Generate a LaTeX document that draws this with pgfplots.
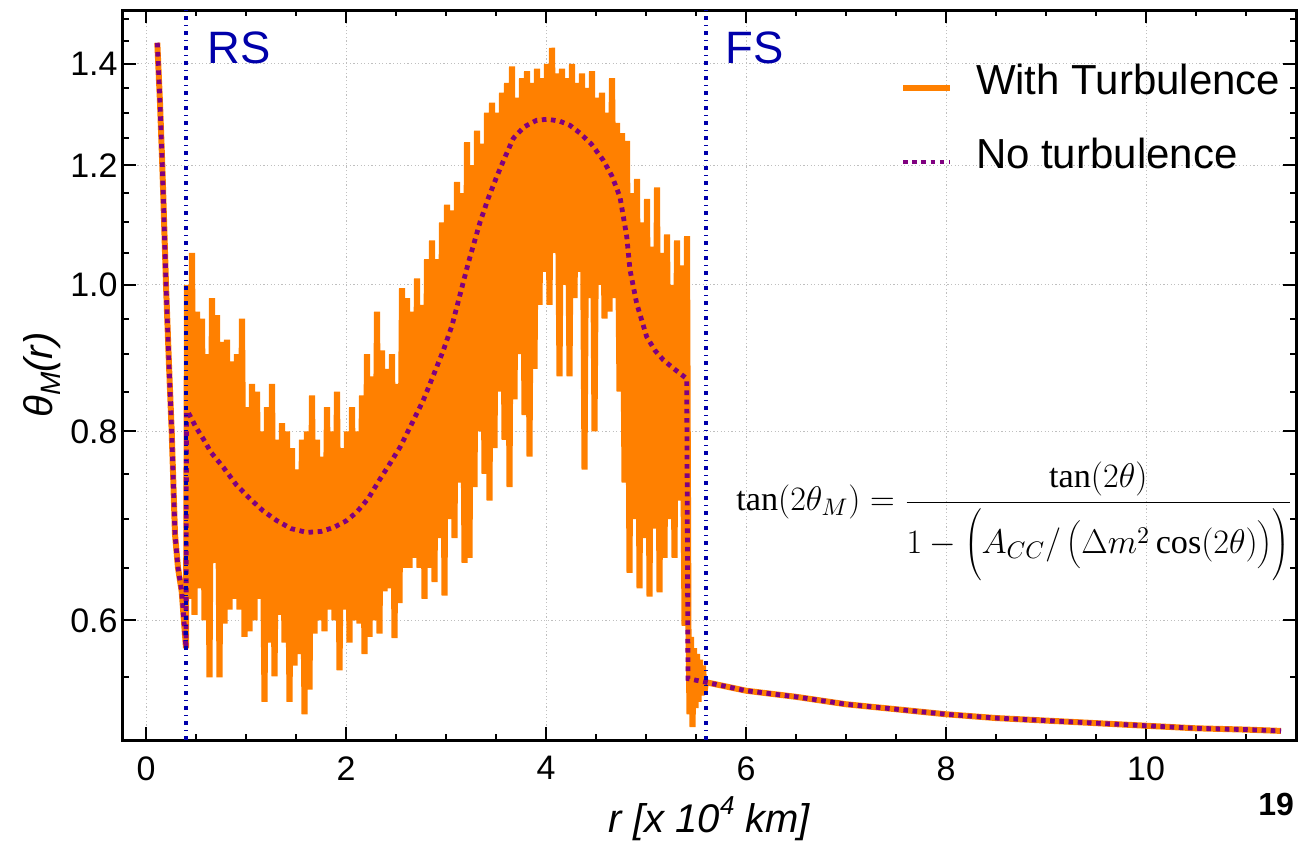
\RequirePackage{fix-cm}
\documentclass[border=0pt]{standalone}
\usepackage{fontspec}
\setmainfont{Liberation Serif}
\newfontfamily\lsans{Liberation Sans}
\usepackage{pgfplots}
\pgfplotsset{compat=1.18}
\definecolor{morange}{RGB}{255,128,0}
\definecolor{mpurple}{RGB}{128,0,128}
\definecolor{mblue}{RGB}{0,0,170}

\pgfplotstableread{
x y
0.113 1.446
0.140 1.32
0.163 1.20
0.183 1.09
0.200 1.00
0.230 0.885
0.257 0.80
0.290 0.684
0.320 0.65
0.357 0.627
0.390 0.587
0.400 0.575
0.410 1.00
0.435 0.62
0.460 1.05
0.485 0.605
0.510 0.96
0.535 0.63
0.560 0.95
0.585 0.60
0.610 0.90
0.635 0.55
0.660 0.98
0.685 0.655
0.710 0.955
0.735 0.55
0.760 0.917
0.785 0.597
0.810 0.92
0.835 0.61
0.860 0.89
0.885 0.62
0.910 0.90
0.935 0.61
0.960 0.95
0.985 0.585
1.010 0.83
1.035 0.59
1.060 0.86
1.085 0.60
1.110 0.85
1.135 0.62
1.160 0.80
1.185 0.53
1.210 0.83
1.235 0.58
1.260 0.86
1.285 0.551
1.310 0.79
1.335 0.605
1.360 0.81
1.385 0.58
1.410 0.80
1.435 0.53
1.460 0.78
1.485 0.56
1.510 0.755
1.535 0.57
1.560 0.79
1.585 0.52
1.610 0.80
1.635 0.54
1.660 0.845
1.685 0.588
1.710 0.79
1.735 0.60
1.760 0.77
1.785 0.59
1.810 0.83
1.835 0.61
1.860 0.80
1.885 0.60
1.910 0.85
1.935 0.556
1.960 0.78
1.985 0.61
2.010 0.80
2.035 0.58
2.060 0.83
2.085 0.60
2.110 0.80
2.135 0.597
2.160 0.845
2.185 0.57
2.210 0.90
2.235 0.585
2.260 0.87
2.285 0.60
2.310 0.96
2.335 0.588
2.360 0.905
2.385 0.627
2.410 0.88
2.435 0.63
2.460 0.90
2.485 0.584
2.510 0.86
2.535 0.616
2.560 0.995
2.585 0.65
2.610 0.98
2.635 0.65
2.660 0.96
2.685 0.66
2.710 1.01
2.735 0.65
2.760 0.97
2.785 0.62
2.810 1.04
2.835 0.65
2.860 1.07
2.885 0.636
2.910 1.04
2.935 0.68
2.960 1.10
2.985 0.623
3.010 1.13
3.035 0.70
3.060 1.12
3.085 0.68
3.110 1.17
3.135 0.74
3.160 1.15
3.185 0.655
3.210 1.243
3.235 0.66
3.260 1.20
3.285 0.735
3.310 1.265
3.335 0.80
3.360 1.24
3.385 0.75
3.410 1.30
3.435 0.72
3.460 1.32
3.485 0.78
3.510 1.30
3.535 0.85
3.560 1.34
3.585 0.79
3.610 1.36
3.635 0.735
3.660 1.395
3.685 0.84
3.710 1.33
3.735 0.90
3.760 1.37
3.785 0.82
3.810 1.385
3.835 0.77
3.860 1.36
3.885 0.88
3.910 1.39
3.935 0.97
3.960 1.37
3.985 1.02
4.010 1.40
4.035 0.97
4.060 1.435
4.085 1.05
4.110 1.38
4.135 0.87
4.160 1.39
4.185 1.00
4.210 1.37
4.235 0.87
4.260 1.40
4.285 0.98
4.310 1.36
4.335 1.02
4.360 1.38
4.385 0.755
4.410 1.35
4.435 0.98
4.460 1.385
4.485 0.80
4.510 1.33
4.535 1.00
4.560 1.34
4.585 0.95
4.610 1.30
4.635 0.96
4.660 1.37
4.685 0.98
4.710 1.28
4.735 0.85
4.760 1.26
4.785 0.74
4.810 1.245
4.835 0.645
4.860 1.15
4.885 0.70
4.910 1.175
4.935 0.63
4.960 1.10
4.985 0.68
5.010 1.14
5.035 0.622
5.060 1.06
5.085 0.69
5.110 1.16
5.135 0.626
5.160 1.05
5.185 0.66
5.210 1.08
5.235 0.70
5.260 1.00
5.285 0.66
5.310 1.07
5.335 0.72
5.360 1.03
5.385 0.595
5.410 1.077
5.425 0.59
5.435 0.52
5.450 0.585
5.465 0.51
5.480 0.575
5.495 0.525
5.510 0.57
5.525 0.53
5.540 0.565
5.555 0.535
5.570 0.56
5.585 0.538
5.600 0.546
6.000 0.539
6.500 0.534
7.000 0.528
7.500 0.524
8.000 0.520
8.500 0.517
9.000 0.515
9.500 0.513
10.000 0.511
10.500 0.509
11.000 0.508
11.350 0.507
}\turb

\pgfplotstableread{
x y
0.113 1.446
0.140 1.32
0.163 1.20
0.183 1.09
0.200 1.00
0.230 0.885
0.257 0.80
0.290 0.684
0.320 0.65
0.357 0.627
0.390 0.587
0.400 0.575
0.405 0.825
0.420 0.824
0.500 0.805
0.573 0.791
0.650 0.775
0.773 0.7575
0.900 0.738
1.040 0.722
1.170 0.709
1.307 0.6985
1.450 0.690
1.607 0.686
1.750 0.687
1.873 0.691
2.000 0.698
2.107 0.7074
2.220 0.722
2.340 0.744
2.440 0.762
2.540 0.781
2.660 0.810
2.773 0.839
2.870 0.870
2.973 0.905
3.060 0.940
3.140 0.985
3.223 1.034
3.340 1.100
3.420 1.140
3.507 1.179
3.590 1.215
3.673 1.250
3.780 1.272
3.907 1.285
4.020 1.287
4.140 1.283
4.240 1.275
4.340 1.260
4.450 1.240
4.573 1.209
4.660 1.180
4.740 1.143
4.807 1.077
4.840 1.023
4.907 0.972
5.007 0.924
5.090 0.905
5.173 0.892
5.290 0.879
5.407 0.867
5.420 0.549
5.600 0.546
6.000 0.539
6.500 0.534
7.000 0.528
7.500 0.524
8.000 0.520
8.500 0.517
9.000 0.515
9.500 0.513
10.000 0.511
10.500 0.509
11.000 0.508
11.350 0.507
}\noturb

\begin{document}
\begin{tikzpicture}
\begin{axis}[
  at={(0,0)}, anchor=south west,
  scale only axis, width=586.5pt, height=365pt,
  xmin=-0.23, xmax=11.5, ymin=0.5, ymax=1.52,
  ymode=log,
  enlargelimits=false,
  clip=false,
  xtick={0,2,4,6,8,10},
  minor xtick={0.5,1,1.5,2.5,3,3.5,4.5,5,5.5,6.5,7,7.5,8.5,9,9.5,10.5,11},
  ytick={0.6,0.8,1.0,1.2,1.4}, yticklabels={0.6,0.8,1.0,1.2,1.4},
  minor ytick={0.5,0.55,0.65,0.7,0.75,0.85,0.9,0.95,1.05,1.1,1.15,1.25,1.3,1.35,1.45,1.5},
  /pgf/number format/assume math mode=true,
  tick label style={font=\lsans\fontsize{17}{17}\selectfont},
  yticklabel style={anchor=east, inner sep=0pt, xshift=-2.5pt},
  xticklabel style={anchor=north, inner sep=0pt, yshift=-8pt},
  grid=major,
  major grid style={gray!50, line width=0.5pt, dash pattern=on 0.6pt off 1.2pt},
  major tick length=6.5pt, minor tick length=3pt,
  tick style={black, line width=1pt},
  axis line style={line width=1.5pt},
  xlabel={r [x 10\raisebox{0.45em}{\fontsize{13}{13}\selectfont 4} km]},
  xlabel style={at={(axis description cs:0.5,-0.127)}, anchor=base, font=\lsans\itshape\fontsize{20}{20}\selectfont},
  ylabel={θ\raisebox{-0.22em}{\fontsize{14}{14}\selectfont M}(r)},
  ylabel style={at={(axis description cs:-0.069,0.5)}, anchor=center, font=\lsans\itshape\fontsize{20}{20}\selectfont},
  legend style={at={(0.6624,0.9274)}, anchor=north west, draw=none, fill=none,
    inner sep=0pt, outer sep=0pt, row sep=17.5pt, column sep=11.5pt,
    font=\lsans\fontsize{21}{21}\selectfont,
    nodes={inner sep=0pt, text height=15.5pt, text depth=4pt},
    cells={anchor=base west}},
  legend image code/.code={\draw[#1] (0pt,3pt) -- (23.5pt,3pt);},
]
\addplot[morange, line width=3pt, line join=bevel] table {\turb};
\addlegendentry{With Turbulence}
\addplot[mpurple, line width=2.4pt, dash pattern=on 2.3pt off 2.3pt] table {\noturb};
\addlegendentry{No turbulence}
\addplot[mblue, line width=2pt, dash pattern=on 2.2pt off 2.4pt on 0.5pt off 2.4pt, forget plot] coordinates {(0.4,0.5) (0.4,1.52)};
\addplot[mblue, line width=2pt, dash pattern=on 2.2pt off 2.4pt on 0.5pt off 2.4pt, forget plot] coordinates {(5.6,0.5) (5.6,1.52)};
\node[anchor=base west, inner sep=0pt, text=mblue, font=\lsans\fontsize{22.7}{22.7}\selectfont] at (axis cs:0.61,1.401) {RS};
\node[anchor=base west, inner sep=0pt, text=mblue, font=\lsans\fontsize{22.7}{22.7}\selectfont] at (axis cs:5.79,1.401) {FS};
\node[anchor=base west, inner sep=0pt, font=\fontsize{17.1}{21}\selectfont] at (axis cs:5.90,0.709)
  {$\displaystyle \tan(2\theta_M) = \frac{\tan(2\theta)}{1-\left(\rule[-15pt]{0pt}{39pt}A_{CC}/\left(\rule[-6.5pt]{0pt}{19pt}\Delta m^2\cos(2\theta)\right)\right)}$};
\node[inner sep=0pt, font=\lsans\bfseries\fontsize{16}{16}\selectfont] at (axis description cs:0.983,-0.0877) {19};
\end{axis}
\pgfresetboundingbox
\path[use as bounding box] (-61.5pt,-53.5pt) rectangle (588.5pt,370pt);
\end{tikzpicture}
\end{document}
